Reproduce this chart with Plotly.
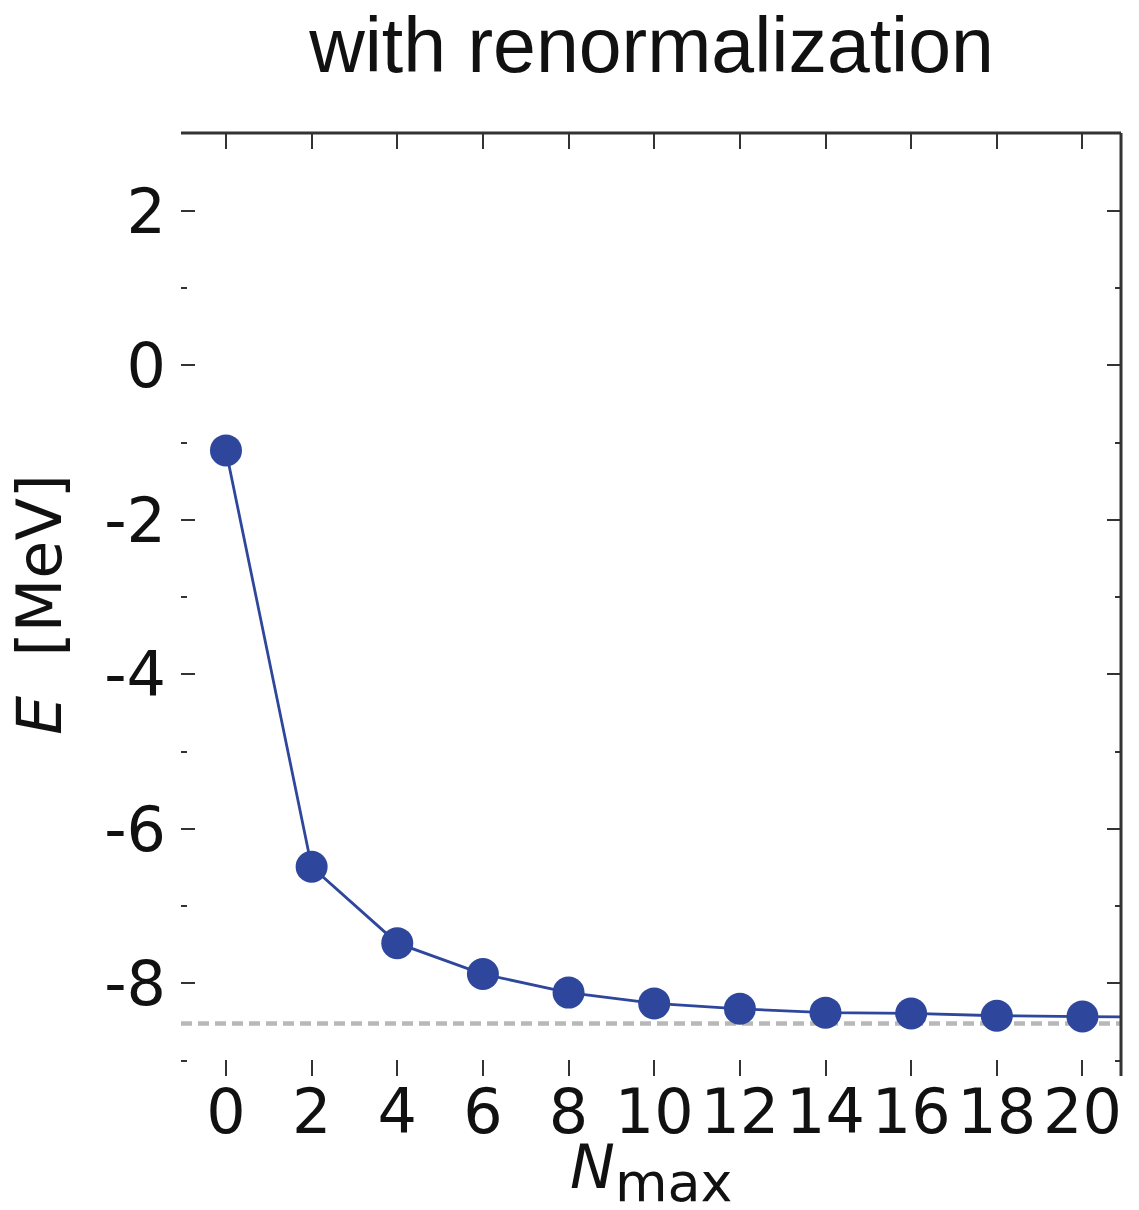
import plotly.graph_objects as go

# Data
n_max = [0, 2, 4, 6, 8, 10, 12, 14, 16, 18, 20, 22]
energy = [-1.10, -6.49, -7.48, -7.88, -8.12, -8.26, -8.33, -8.38, -8.39, -8.42, -8.43, -8.44]
reference_energy = -8.52
x_tick_vals = [0, 2, 4, 6, 8, 10, 12, 14, 16, 18, 20]
y_tick_vals = [2, 0, -2, -4, -6, -8]

blue = "#2E479C"
axis_col = "#333333"
tick_font = dict(family="DejaVu Sans", size=62, color="#111111")

fig = go.Figure()

fig.add_trace(go.Scatter(
    x=n_max, y=energy, mode="lines+markers",
    line=dict(color=blue, width=2.8),
    marker=dict(color=blue, size=32),
    showlegend=False,
))

fig.add_shape(type="line", xref="x domain", yref="y", x0=0, x1=1,
              y0=reference_energy, y1=reference_energy,
              line=dict(color="#B8B8B8", width=4.5, dash="11px,6px"), layer="below")

# top and right frame lines
fig.add_shape(type="line", xref="x domain", yref="y domain", x0=0, x1=1, y0=1, y1=1,
              line=dict(color=axis_col, width=3))
fig.add_shape(type="line", xref="x domain", yref="y domain", x0=1, x1=1, y0=0, y1=1,
              line=dict(color=axis_col, width=3))

fig.update_layout(
    width=1139, height=1210,
    margin=dict(l=181, r=18, t=133, b=134),
    plot_bgcolor="white", paper_bgcolor="white",
    title=dict(text="with renormalization", x=0.572, xanchor="center", y=0.985, yanchor="top",
               font=dict(family="Liberation Sans", size=77, color="#111111")),
)

# x-axis title as annotation for precise placement
fig.add_annotation(
    text="<i>N</i><sub><span style='font-size:54px'>max</span></sub>",
    xref="x domain", yref="y domain", x=0.5, y=-0.057, xanchor="center", yanchor="top",
    showarrow=False, font=dict(family="DejaVu Sans", size=60, color="#111111"),
)

fig.update_xaxes(
    range=[-1.05, 20.9], showgrid=False, zeroline=False, showline=False, automargin=False,
    tickmode="array", tickvals=x_tick_vals, ticktext=[str(v) for v in x_tick_vals],
    ticks="inside", ticklen=16, tickwidth=2, tickcolor=axis_col, mirror="ticks",
    tickfont=tick_font, ticklabelstandoff=-6,
)
fig.update_yaxes(
    range=[-9.2, 3.01], showgrid=False, zeroline=False, showline=False, automargin=False,
    tickmode="array", tickvals=y_tick_vals, ticktext=[str(v) for v in y_tick_vals],
    ticks="inside", ticklen=14, tickwidth=2, tickcolor=axis_col, mirror="ticks",
    minor=dict(dtick=1, tick0=1, ticks="inside", ticklen=6, tickwidth=2, tickcolor=axis_col),
    tickfont=tick_font, ticklabelstandoff=14,
    title=dict(text="<i>E</i>  [MeV]", font=dict(family="DejaVu Sans", size=62, color="#111111"),
               standoff=22),
)

fig.write_html("out.html")
